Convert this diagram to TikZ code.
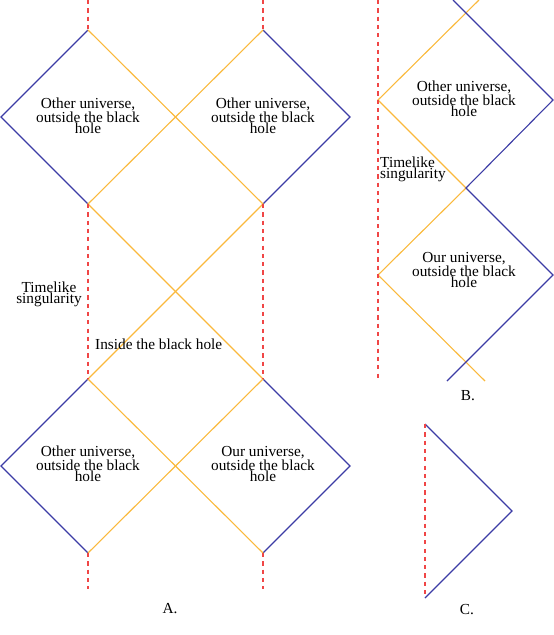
\documentclass[tikz,border=0pt]{standalone}
\usepackage{fontspec}
\setmainfont{Liberation Serif}
\usetikzlibrary{positioning}
\definecolor{hzorange}{RGB}{250,185,60}
\definecolor{scriblue}{RGB}{60,60,165}
\definecolor{singred}{RGB}{240,70,70}

\begin{document}
\begin{tikzpicture}[x=1pt,y=-1pt,
  horizon/.style={draw=hzorange, line width=1.1pt},
  scri/.style={draw=scriblue, line width=1.1pt},
  sing/.style={draw=singred, line width=2.2pt, dash pattern=on 4.2pt off 4.1pt},
  region/.style={font=\fontsize{15.3}{11}\selectfont, align=center, inner sep=0pt},
  tag/.style={font=\fontsize{15.3}{18}\selectfont, inner sep=0pt}
]
  \useasboundingbox (0,0) rectangle (554,635);

  % A: vertices
  \coordinate (tl) at (88,30);   \coordinate (tr) at (263,30);
  \coordinate (ml) at (88,204);  \coordinate (mr) at (263,204);
  \coordinate (nl) at (88,379);  \coordinate (nr) at (263,379);
  \coordinate (bl) at (88,553);  \coordinate (br) at (263,553);
  \coordinate (wl1) at (1,117);  \coordinate (er1) at (350,117);
  \coordinate (wl2) at (1,466);  \coordinate (er2) at (350,466);
  \coordinate (tl0) at (88,0);   \coordinate (tr0) at (263,0);
  \coordinate (bl0) at (88,589); \coordinate (br0) at (263,589);

  % A: infinities
  \draw[scri] (tl) -- (wl1) -- (ml);
  \draw[scri] (tr) -- (er1) -- (mr);
  \draw[scri] (nl) -- (wl2) -- (bl);
  \draw[scri] (nr) -- (er2) -- (br);

  % A: horizons
  \draw[horizon] (tl) -- (mr) -- (nl) -- (br);
  \draw[horizon] (tr) -- (ml) -- (nr) -- (bl);

  % A: singularities
  \draw[sing] (tl0) -- (tl);  \draw[sing] (tr0) -- (tr);
  \draw[sing] (ml) -- (nl);   \draw[sing] (mr) -- (nr);
  \draw[sing] (bl) -- (bl0);  \draw[sing] (br) -- (br0);

  % A: labels
  \node[region] (otherA1) at (88,116) {Other universe,\\outside the black\\hole};
  \node[region] (otherA2) at (263,116) {Other universe,\\outside the black\\hole};
  \node[region] (otherA3) at (88,464) {Other universe,\\outside the black\\hole};
  \node[region] (ourA) at (263,464) {Our universe,\\outside the black\\hole};
  \node[region] (timeA) at (49,294) {Timelike\\singularity};
  \node[tag, anchor=west] (insideA) at (95,344) {Inside the black hole};
  \node[tag] (capA) at (170,609) {A.};

  % B: vertices
  \coordinate (btop) at (466,13);
  \coordinate (bw1) at (378,100); \coordinate (be1) at (553,100);
  \coordinate (bmid) at (466,188);
  \coordinate (bw2) at (378,275); \coordinate (be2) at (553,275);
  \coordinate (bto) at (479,0);   \coordinate (btb) at (453,0);
  \coordinate (bbo) at (485,381); \coordinate (bbb) at (447,381);
  \coordinate (bs0) at (378,0);   \coordinate (bs1) at (378,380);

  \draw[horizon] (bto) -- (bw1) -- (bmid) -- (bw2) -- (bbo);
  \draw[scri] (btb) -- (be1) -- (bmid) -- (be2) -- (bbb);
  \draw[sing] (bs0) -- (bs1);

  \node[region] (otherB) at (464,99) {Other universe,\\outside the black\\hole};
  \node[region] (ourB) at (464,270) {Our universe,\\outside the black\\hole};
  \node[region, anchor=west, align=left] (timeB) at (380,169) {Timelike\\singularity};
  \node[tag] (capB) at (468,396) {B.};

  % C
  \coordinate (ctop) at (425,424);
  \coordinate (capex) at (512,511);
  \coordinate (cbot) at (425,598);
  \draw[scri] (ctop) -- (capex) -- (cbot);
  \draw[sing] (ctop) -- (cbot);
  \node[tag] (capC) at (467,610) {C.};
\end{tikzpicture}
\end{document}
